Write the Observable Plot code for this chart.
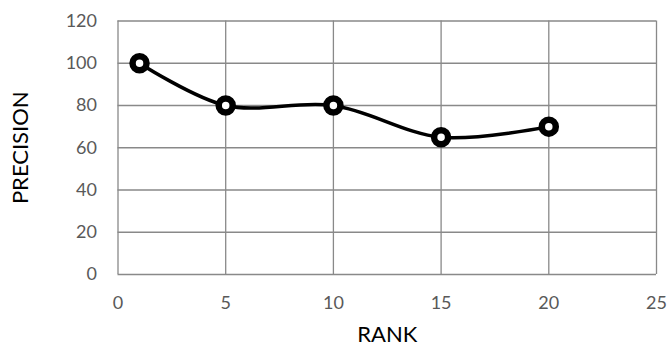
<!DOCTYPE html>
<html>
<head>
<meta charset="utf-8">
<script src="https://cdn.jsdelivr.net/npm/d3@7"></script>
<script src="https://cdn.jsdelivr.net/npm/@observablehq/plot@0.6"></script>
<style>
  html, body { margin: 0; padding: 0; background: #fff; }
  svg { display: block; }
</style>
</head>
<body>
<div id="chart"></div>
<script>
const rank = [1, 5, 10, 15, 20];
const precision = [100, 80, 80, 65, 70];
const xTicks = [0, 5, 10, 15, 20, 25];
const yTicks = [0, 20, 40, 60, 80, 100, 120];

const data = rank.map((r, i) => ({rank: r, precision: precision[i]}));

const chart = Plot.plot({
  width: 667,
  height: 347,
  marginLeft: 117.5,
  marginRight: 11,
  marginTop: 20.5,
  marginBottom: 73,
  style: {fontFamily: "Lato, 'Open Sans', sans-serif", fontSize: "18px", color: "#595959", background: "#fff"},
  x: {domain: [0, 25], ticks: xTicks},
  y: {domain: [0, 120], ticks: yTicks},
  marks: [
    Plot.gridX(xTicks, {stroke: "#898989", strokeOpacity: 1, strokeWidth: 1.3}),
    Plot.gridY(yTicks, {stroke: "#898989", strokeOpacity: 1, strokeWidth: 1.3}),
    Plot.axisX({ticks: xTicks, tickSize: 0, tickPadding: 22, fill: "#595959",
      label: "RANK", labelAnchor: "center", labelArrow: "none", labelOffset: 67}),
    Plot.axisY({ticks: yTicks, tickSize: 0, tickPadding: 21, fill: "#595959",
      label: "PRECISION", labelAnchor: "center", labelArrow: "none", labelOffset: 106}),
    Plot.line(data, {x: "rank", y: "precision", curve: "catmull-rom", stroke: "#000", strokeWidth: 3.5}),
    Plot.dot(data, {x: "rank", y: "precision", r: 7, fill: "#fff", stroke: "#000", strokeWidth: 6.5})
  ]
});
document.getElementById("chart").appendChild(chart);
// style axis titles
chart.querySelectorAll("g[aria-label='x-axis label'] text, g[aria-label='y-axis label'] text").forEach(t => {
  t.setAttribute("fill", "#000");
  t.setAttribute("font-size", "22px");
  t.style.fontSize = "22px";
});
</script>
</body>
</html>
